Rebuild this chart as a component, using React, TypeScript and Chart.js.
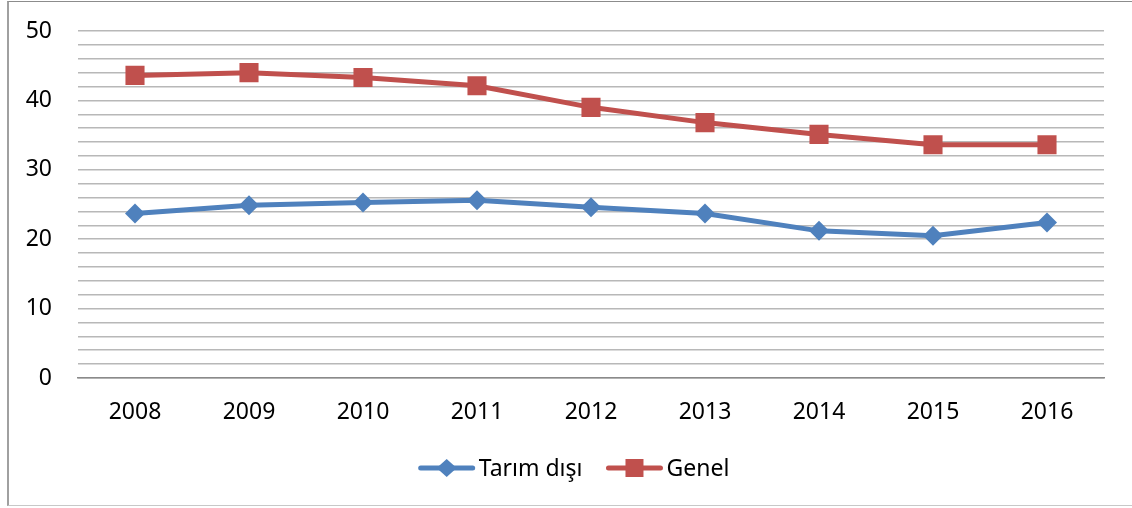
import React, { useEffect, useRef } from "react";
import { Chart, registerables } from "chart.js";

Chart.register(...registerables);

const years = ["2008", "2009", "2010", "2011", "2012", "2013", "2014", "2015", "2016"];
const tarimDisi = [23.7, 24.9, 25.3, 25.6, 24.6, 23.7, 21.2, 20.5, 22.4];
const genel = [43.6, 44.0, 43.3, 42.1, 39.0, 36.8, 35.1, 33.6, 33.6];
const seriesNames = ["Tarım dışı", "Genel"];

const BLUE = "#4F81BD";
const RED = "#C0504D";
const FONT = "'Noto Sans', 'Open Sans', sans-serif";

const legendPlugin = {
  id: "customLegend",
  afterDraw(chart: any) {
    const ctx = chart.ctx;
    const items = chart.data.datasets.map((d: any) => ({
      label: d.label,
      color: d.borderColor,
      style: d.pointStyle,
    }));
    ctx.save();
    ctx.font = `23px ${FONT}`;
    const sample = 56;
    const gap = 4;
    const between = 24;
    let total = 0;
    items.forEach((it: any, i: number) => {
      total += sample + gap + ctx.measureText(it.label).width;
      if (i < items.length - 1) total += between;
    });
    const cx = 574;
    const y = 468;
    let x = cx - total / 2;
    items.forEach((it: any) => {
      ctx.strokeStyle = it.color;
      ctx.fillStyle = it.color;
      ctx.lineWidth = 5;
      ctx.lineCap = "round";
      ctx.beginPath();
      ctx.moveTo(x + 2, y);
      ctx.lineTo(x + sample - 2, y);
      ctx.stroke();
      const mx = x + sample / 2;
      ctx.beginPath();
      if (it.style === "rectRot") {
        ctx.moveTo(mx, y - 9);
        ctx.lineTo(mx + 10, y);
        ctx.lineTo(mx, y + 9);
        ctx.lineTo(mx - 10, y);
        ctx.closePath();
      } else {
        ctx.rect(mx - 9, y - 9, 18, 18);
      }
      ctx.fill();
      x += sample + gap;
      ctx.fillStyle = "#000";
      ctx.textBaseline = "middle";
      ctx.textAlign = "left";
      ctx.fillText(it.label, x, y + 1);
      x += ctx.measureText(it.label).width + between;
    });
    ctx.restore();
  },
};

export default function App() {
  const ref = useRef<HTMLCanvasElement>(null);
  useEffect(() => {
    if (!ref.current) return;
    const chart = new Chart(ref.current, {
      type: "line",
      data: {
        labels: years,
        datasets: [
          {
            label: seriesNames[0],
            data: tarimDisi,
            borderColor: BLUE,
            backgroundColor: BLUE,
            borderWidth: 5,
            pointStyle: "rectRot",
            pointRadius: 10,
            pointBorderWidth: 0,
            tension: 0,
          },
          {
            label: seriesNames[1],
            data: genel,
            borderColor: RED,
            backgroundColor: RED,
            borderWidth: 5,
            pointStyle: "rect",
            pointRadius: 13.5,
            pointBorderWidth: 0,
            tension: 0,
          },
        ],
      },
      options: {
        animation: false,
        responsive: false,
        layout: { padding: { top: 31, right: 28, left: 0, bottom: 0 } },
        plugins: { legend: { display: false }, tooltip: { enabled: false } },
        scales: {
          x: {
            offset: true,
            grid: { display: false, drawTicks: false },
            border: { display: true, color: "#8a8a8a", width: 1.5 },
            ticks: { color: "#000", font: { family: FONT, size: 23 }, padding: 21, maxRotation: 0 },
            afterFit(scale: any) {
              scale.height = 130;
              scale.paddingLeft = 0;
              scale.paddingRight = 0;
            },
          },
          y: {
            min: 0,
            max: 50,
            border: { display: false },
            grid: { color: "#b8b8b8", lineWidth: 1.5, drawTicks: false },
            ticks: {
              stepSize: 2,
              autoSkip: false,
              color: "#000",
              padding: 26,
              font: { family: FONT, size: 23 },
              callback: (v: any) => (Number(v) % 10 === 0 ? String(v) : ""),
            },
            afterFit(scale: any) {
              scale.width = 78;
              scale.paddingTop = 0;
              scale.paddingBottom = 0;
            },
          },
        },
      },
      plugins: [legendPlugin],
    });
    return () => chart.destroy();
  }, []);
  return (
    <div style={{ position: "fixed", left: 0, top: 0, width: 1132, height: 508, background: "#fff", overflow: "hidden" }}>
      <div
        style={{
          position: "absolute",
          left: 7,
          top: 1,
          width: 1140,
          height: 505,
          borderTop: "1px solid #8c8c8c",
          borderLeft: "2px solid #a0a0a0",
          borderBottom: "1px solid #c8c8c8",
          boxSizing: "border-box",
        }}
      />
      <canvas ref={ref} width={1132} height={508} style={{ position: "absolute", left: 0, top: 0 }} />
    </div>
  );
}
